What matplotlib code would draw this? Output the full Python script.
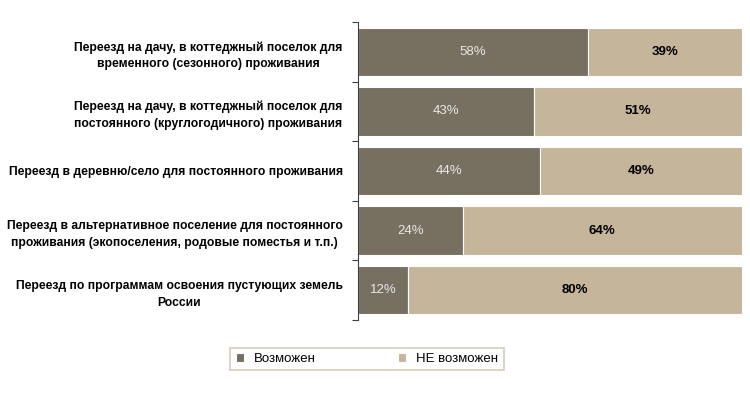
import numpy as np
import matplotlib.pyplot as plt

# categories (top to bottom) and shares, %
categories = [
    'Переезд на дачу, в коттеджный поселок для\nвременного (сезонного) проживания',
    'Переезд на дачу, в коттеджный поселок для\nпостоянного (круглогодичного) проживания',
    'Переезд в деревню/село для постоянного проживания',
    'Переезд в альтернативное поселение для постоянного\nпроживания (экопоселения, родовые поместья и т.п.)',
    'Переезд по программам освоения пустующих земель\nРоссии',
]
possible = np.array([58, 43, 44, 24, 12])
not_possible = np.array([39, 51, 49, 64, 80])

dark = '#777061'
light = '#c4b59b'

plt.rcParams['font.family'] = ['Liberation Sans', 'DejaVu Sans']

fig = plt.figure(figsize=(7.5, 3.93), dpi=100)
ax = fig.add_axes([358 / 750, 1 - 320 / 393, 384 / 750, 298 / 393])

# 100% stacked: normalise to row total
total = possible + not_possible
p = possible / total * 100
n = not_possible / total * 100
y = np.arange(len(categories))

ax.barh(y, p, height=0.81, color=dark, edgecolor='white', linewidth=0.8, label='Возможен')
ax.barh(y, n, left=p, height=0.81, color=light, edgecolor='white', linewidth=0.8, label='НЕ возможен')

for i in range(len(y)):
    ax.text(p[i] / 2, y[i], f'{possible[i]}%', ha='center', va='center',
            color='#e8e8e8', fontsize=9.5)
    ax.text(p[i] + n[i] / 2, y[i], f'{not_possible[i]}%', ha='center', va='center',
            color='black', fontsize=9.5, fontweight='bold')

ax.set_xlim(0, 100)
ax.set_ylim(len(categories) - 0.5, -0.5)
ax.set_xticks([])
ax.set_yticks(np.arange(-0.5, len(categories)), minor=False)
ax.set_yticklabels([])
ax.set_yticks(y, minor=True)
ax.set_yticklabels(categories, minor=True, fontsize=8.7, fontweight='bold',
                   multialignment='center', linespacing=1.55)
ax.tick_params(axis='y', which='minor', length=0, pad=11)
ax.tick_params(axis='y', which='major', length=4, direction='out', color='#404040')
for s in ['top', 'right', 'bottom']:
    ax.spines[s].set_visible(False)
ax.spines['left'].set_color('#404040')

leg = fig.legend(loc='center', bbox_to_anchor=(367 / 750, 1 - 359 / 393), ncol=2,
                 fontsize=9.5, frameon=True, fancybox=False, handlelength=0.6,
                 handleheight=0.6, columnspacing=6.2, borderpad=0.4,
                 borderaxespad=0, edgecolor='#c8c0a8')
leg.get_frame().set_linewidth(1.2)

fig.savefig('out.png', dpi=100)
